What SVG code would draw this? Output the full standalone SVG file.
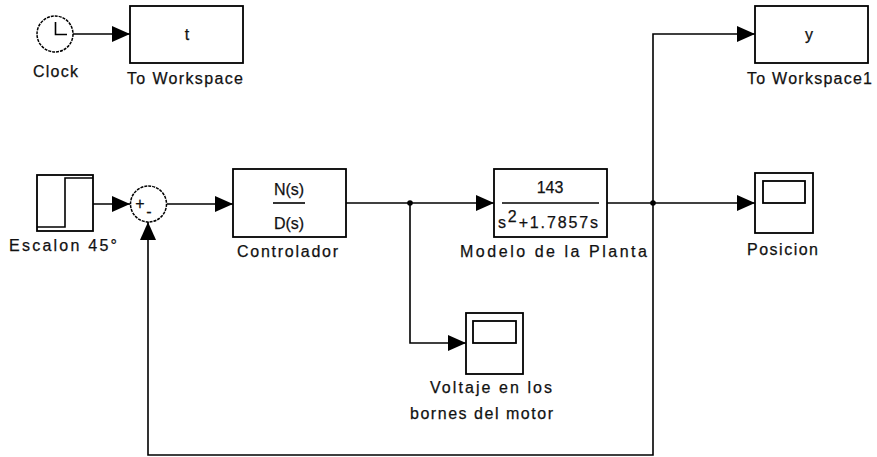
<svg xmlns="http://www.w3.org/2000/svg" width="877" height="457" viewBox="0 0 877 457">
<style>
.blk{fill:#fff;stroke:#000;stroke-width:1.8}
.ln{fill:none;stroke:#000;stroke-width:1.6}
.lbl{font-family:"Liberation Sans",Arial,sans-serif;font-size:16px;fill:#111;stroke:#111;stroke-width:0.25}
.mid{text-anchor:middle}
</style>
<defs>
<marker id="ah" markerUnits="userSpaceOnUse" markerWidth="18" markerHeight="16" refX="18" refY="8" orient="auto" viewBox="0 0 18 16">
<path d="M0,0 L18,8 L0,16 z" fill="#000"/>
</marker>
</defs>
<rect width="877" height="457" fill="#fff"/>
<g id="connectors">
<path class="ln" d="M73,34 H130" marker-end="url(#ah)"/>
<path class="ln" d="M93,204 H130" marker-end="url(#ah)"/>
<path class="ln" d="M167,204 H233" marker-end="url(#ah)"/>
<path class="ln" d="M346,203 H494" marker-end="url(#ah)"/>
<path class="ln" d="M410,203 V343 H466" marker-end="url(#ah)"/>
<path class="ln" d="M607,203 H755" marker-end="url(#ah)"/>
<path class="ln" d="M653,203 V34 H755" marker-end="url(#ah)"/>
<path class="ln" d="M653,203 V455 H148 V222" marker-end="url(#ah)"/>
<circle cx="410" cy="203" r="2.8" fill="#000"/>
<circle cx="653" cy="203" r="2.8" fill="#000"/>
</g>
<g id="clock">
<circle cx="55" cy="34" r="18" fill="#fff" stroke="#000" stroke-width="1.5" stroke-dasharray="3,1"/>
<path class="ln" d="M55.5,22 V34.5 H67"/>
<text class="lbl" x="33" y="77" textLength="45" lengthAdjust="spacing">Clock</text>
</g>
<g id="toworkspace">
<rect class="blk" x="130" y="6" width="113" height="57"/>
<text class="lbl mid" x="187" y="40">t</text>
<text class="lbl" x="127" y="84" textLength="116" lengthAdjust="spacing">To Workspace</text>
</g>
<g id="toworkspace1">
<rect class="blk" x="755" y="6" width="113" height="57"/>
<text class="lbl mid" x="809" y="40">y</text>
<text class="lbl" x="747" y="84" textLength="125" lengthAdjust="spacing">To Workspace1</text>
</g>
<g id="escalon">
<rect class="blk" x="37" y="175" width="56" height="56"/>
<path class="ln" d="M37,227 H65 V178 H93"/>
<text class="lbl" x="9" y="251" textLength="108" lengthAdjust="spacing">Escalon 45°</text>
</g>
<g id="sum">
<circle cx="148.5" cy="204" r="18" fill="#fff" stroke="#000" stroke-width="1.5" stroke-dasharray="3,1"/>
<text class="lbl mid" x="140" y="209">+</text>
<text class="lbl mid" x="149" y="217">-</text>
</g>
<g id="controlador">
<rect class="blk" x="233" y="169" width="113" height="68"/>
<text class="lbl mid" x="289" y="195">N(s)</text>
<path class="ln" d="M273,203 H305"/>
<text class="lbl mid" x="289" y="229">D(s)</text>
<text class="lbl" x="237" y="257" textLength="101" lengthAdjust="spacing">Controlador</text>
</g>
<g id="planta">
<rect class="blk" x="494" y="169" width="113" height="68"/>
<text class="lbl mid" x="550" y="193">143</text>
<path class="ln" d="M502,203 H599"/>
<text class="lbl" x="498" y="228" textLength="100" lengthAdjust="spacing">s<tspan dy="-6">2</tspan><tspan dy="6">+1.7857s</tspan></text>
<text class="lbl" x="460" y="257" textLength="187" lengthAdjust="spacing">Modelo de la Planta</text>
</g>
<g id="posicion">
<rect class="blk" x="755" y="173" width="58" height="60"/>
<rect class="blk" x="763" y="181" width="42" height="22"/>
<text class="lbl" x="747" y="255" textLength="71" lengthAdjust="spacing">Posicion</text>
</g>
<g id="voltaje">
<rect class="blk" x="466" y="313" width="57" height="61"/>
<rect class="blk" x="473" y="321" width="43" height="22"/>
<text class="lbl" x="430" y="393" textLength="122" lengthAdjust="spacing">Voltaje en los</text>
<text class="lbl" x="410" y="419" textLength="143" lengthAdjust="spacing">bornes del motor</text>
</g>
</svg>
